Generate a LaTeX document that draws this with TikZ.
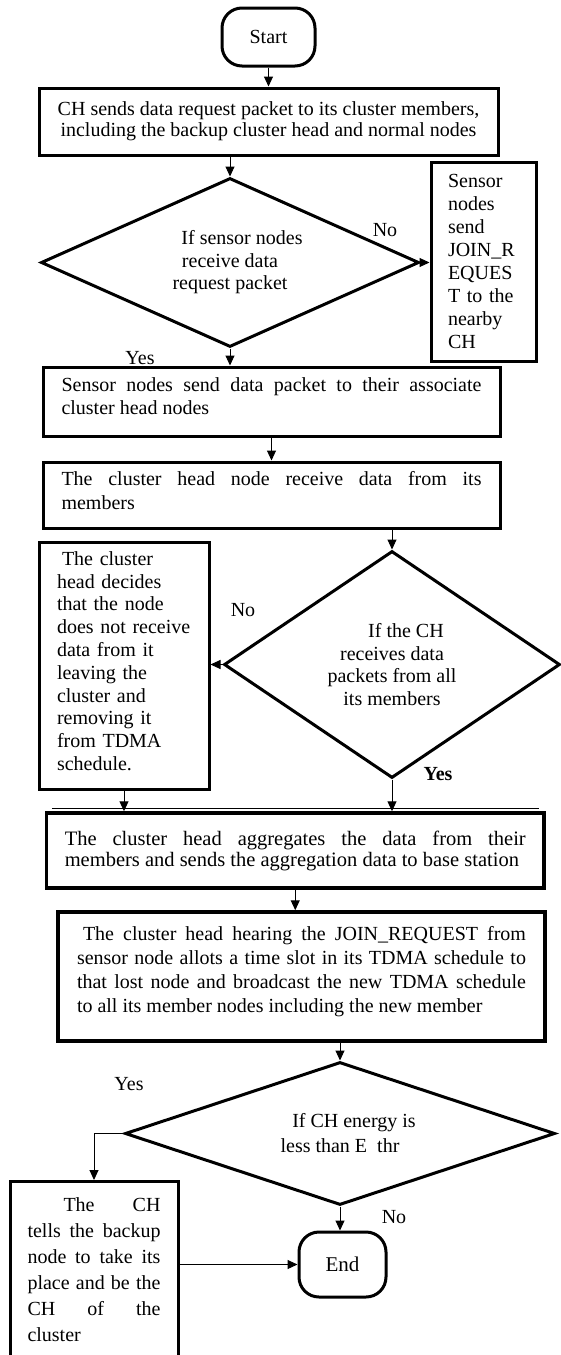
\documentclass[tikz,border=0pt]{standalone}
\usepackage{fontspec}
\setmainfont{Liberation Serif}
\usetikzlibrary{shapes.geometric,arrows.meta,calc}
\begin{document}
\begin{tikzpicture}[x=1pt,y=-1pt,
  every node/.style={font=\fontsize{20}{23}\selectfont},
  box/.style={draw, line width=3pt, rectangle, inner sep=0pt},
  dia/.style={draw, line width=3pt, diamond, inner sep=0pt},
  term/.style={draw, line width=3pt, rectangle, rounded corners=20pt},
  arr/.style={-{Triangle[length=10pt,width=9pt]}, line width=1pt},
  lbl/.style={inner sep=0pt}]
\useasboundingbox (0,0) rectangle (561,1355);

\node[term, minimum width=93pt, minimum height=58pt] (start) at (268.5,37) {Start};

\node[box, minimum width=459pt, minimum height=67pt, align=center,
      font=\fontsize{20}{21}\selectfont] (b1) at (268.5,121.5)
  {CH sends data request packet to its cluster members,\\ including the backup cluster head and normal nodes};

\node[dia, aspect=2.24, minimum width=378pt, minimum height=169pt, align=center,
      font=\fontsize{20}{22.5}\selectfont] (d1) at (230,262.5)
  {\hspace*{24pt}If sensor nodes\\ receive data\\ request packet};

\node[box, minimum width=105pt, minimum height=199pt, text width=71pt, inner xsep=17pt, align=left,
      font=\fontsize{20}{23}\selectfont] (rb) at (483.5,261.5)
  {Sensor\\ nodes\\ send\\ JOIN\_R\\ EQUES\\ T to the\\ nearby\\ CH};

\node[box, minimum width=457pt, minimum height=69pt, text width=420pt, inner xsep=18.5pt, align=justify,
      font=\fontsize{20}{23}\selectfont] (b2) at (271.5,401.5)
  {Sensor nodes send data packet to their associate\linebreak cluster head nodes\rule[-10pt]{0pt}{0pt}};

\node[box, minimum width=457pt, minimum height=66pt, text width=420pt, inner xsep=18.5pt, align=justify,
      font=\fontsize{20}{24}\selectfont] (b3) at (271.5,495)
  {The cluster head node receive data from its\linebreak members\rule[-10pt]{0pt}{0pt}};

\node[dia, aspect=1.48, minimum width=336pt, minimum height=227pt, align=center,
      font=\fontsize{20}{22.5}\selectfont] (d2) at (392,664.5)
  {\hspace*{28pt}If the CH\\ receives data\\ packets from all\\ its members};

\node[box, minimum width=170pt, minimum height=247pt, text width=134pt, inner xsep=18pt, align=left,
      font=\fontsize{20}{22.8}\selectfont] (lb) at (124,665.5)
  {\hspace*{5pt}The cluster\\ head decides\\ that the node\\ does not receive\\ data from it\\ leaving the\\ cluster and\\ removing it\\ from TDMA\\ schedule.\rule[-9pt]{0pt}{0pt}};

\node[box, line width=3.5pt, minimum width=497.5pt, minimum height=75pt, text width=461pt, inner xsep=18.25pt,
      align=justify, font=\fontsize{20.5}{21}\selectfont] (b4) at (295.25,850.5)
  {The cluster head aggregates the data from their\linebreak members and sends the aggregation data to base station};
\draw[line width=1pt] ($(b4.north west)+(7,-2.5)$) -- ($(b4.north east)+(-7,-2.5)$);

\node[box, line width=3.5pt, minimum width=487pt, minimum height=129pt, text width=449pt, inner xsep=19pt,
      align=justify, font=\fontsize{20}{24}\selectfont] (b5) at (301.5,976.5)
  {\hspace*{6pt}The cluster head hearing the JOIN\_REQUEST from\linebreak sensor node allots a time slot in its TDMA schedule to\linebreak that lost node and broadcast the new TDMA schedule\linebreak to all its member nodes including the new member\rule[-14pt]{0pt}{0pt}};

\node[dia, aspect=3, minimum width=430pt, minimum height=143pt, align=center,
      font=\fontsize{20}{25}\selectfont] (d3) at (340,1133.5)
  {\hspace*{28pt}If CH energy is\\ less than E\hspace{10pt}thr};

\node[box, anchor=north, minimum width=168pt, text width=133pt, inner xsep=17.5pt, inner ysep=16pt,
      align=justify, font=\fontsize{20}{26}\selectfont] (b6) at (94,1180)
  {\hspace*{36pt}The CH\linebreak tells the backup\linebreak node to take its\linebreak place and be the\linebreak CH of the\linebreak cluster\rule[-80pt]{0pt}{0pt}};

\node[term, minimum width=87pt, minimum height=65pt, font=\fontsize{21}{23}\selectfont] (end) at (342.5,1264.5) {End};

\node[lbl] (no1) at (385,230) {No};
\node[lbl] (yes1) at (140,358) {Yes};
\node[lbl] (no2) at (243,610) {No};
\node[lbl, font=\fontsize{20}{23}\selectfont\bfseries] (yes2) at (438,774) {Yes};
\node[lbl] (yes3) at (129,1084) {Yes};
\node[lbl] (no3) at (394,1217) {No};

\draw[arr] (start.south) -- (start.south |- b1.north);
\draw[arr] (d1.north |- b1.south) -- (d1.north);
\draw[arr] (d1.east) -- (d1.east -| rb.west);
\draw[arr] (d1.south) -- (d1.south |- b2.north);
\draw[arr] (b2.south) -- (b2.south |- b3.north);
\draw[arr] (d2.north |- b3.south) -- (d2.north);
\draw[arr] (d2.west) -- (d2.west -| lb.east);
\draw[arr] (lb.south) -- (lb.south |- b4.north);
\draw[arr] (d2.south) -- (d2.south |- b4.north);
\draw[arr] (b4.south) -- (b4.south |- b5.north);
\draw[arr] (d3.north |- b5.south) -- (d3.north);
\draw[arr] (d3.west) -| (b6.north);
\draw[arr] (d3.south) -- (d3.south |- end.north);
\draw[arr] (b6.east |- end.west) -- (end.west);
\end{tikzpicture}
\end{document}
